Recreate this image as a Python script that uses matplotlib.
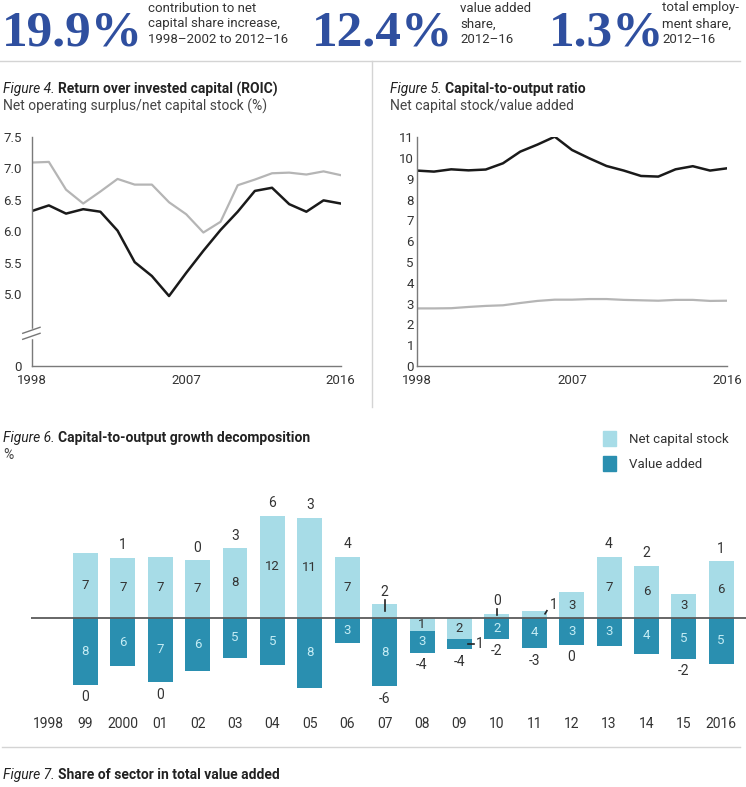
import matplotlib
matplotlib.use("Agg")
import matplotlib.pyplot as plt
import numpy as np
from matplotlib.lines import Line2D
from matplotlib.patches import Patch

plt.rcParams["font.family"] = ["Roboto", "DejaVu Sans"]

BLUE = "#2f4f9f"
LIGHT = "#a7dce7"
DARK = "#2a8fb0"
TXT = "#333333"
SEP = "#d4d4d4"

# --- header ---------------------------------------------------------------
HEAD_NUMS = ["19.9%", "12.4%", "1.3%"]
HEAD_TEXT = [
    ["contribution to net", "capital share increase,", "1998\u20132002 to 2012\u201316"],
    ["value added", "share,", "2012\u201316"],
    ["total employ-", "ment share,", "2012\u201316"],
]

# --- figure 4 / 5 ------------------------------------------------------------
YEARS = list(range(1998, 2017))
ROIC_DARK = [6.32, 6.41, 6.28, 6.35, 6.31, 6.01, 5.51, 5.29, 4.88, 5.34,
             5.69, 6.02, 6.31, 6.64, 6.69, 6.43, 6.31, 6.49, 6.44]
ROIC_GREY = [7.09, 7.10, 6.66, 6.44, 6.63, 6.83, 6.74, 6.74, 6.46, 6.27,
             5.98, 6.15, 6.73, 6.82, 6.92, 6.93, 6.90, 6.95, 6.89]
KY_DARK = [9.40, 9.35, 9.46, 9.41, 9.45, 9.75, 10.31, 10.65, 11.03, 10.39,
           9.99, 9.62, 9.40, 9.14, 9.11, 9.46, 9.61, 9.40, 9.51]
KY_GREY = [2.77, 2.77, 2.78, 2.84, 2.89, 2.92, 3.03, 3.13, 3.19, 3.19,
           3.22, 3.22, 3.18, 3.16, 3.14, 3.18, 3.18, 3.13, 3.14]

# --- figure 6 ------------------------------------------------------------------
BAR_CATS = ["1998", "99", "2000", "01", "02", "03", "04", "05", "06", "07",
            "08", "09", "10", "11", "12", "13", "14", "15", "2016"]
BAR_YEARS = list(range(1999, 2017))
CAPITAL = [7.4, 6.9, 7.0, 6.6, 8.0, 11.7, 11.5, 7.0, 1.6, -1.5,
           -2.5, 0.4, 0.8, 2.9, 7.0, 6.0, 2.7, 6.5]
VALUE_ADDED = [7.7, 5.6, 7.4, 6.1, 4.6, 5.4, 8.1, 2.9, 7.9, 2.5,
               1.15, 2.4, 3.5, 3.1, 3.25, 4.2, 4.7, 5.3]
CAPITAL_LBL = [7, 7, 7, 7, 8, 12, 11, 7, 2, 1, 2, 0, 1, 3, 7, 6, 3, 6]
VALUE_LBL = [8, 6, 7, 6, 5, 5, 8, 3, 8, 3, 1, 2, 4, 3, 3, 4, 5, 5]
TOTAL_LBL = [0, 1, 0, 0, 3, 6, 3, 4, -6, -4, -4, -2, -3, 0, 4, 2, -2, 1]
# small segments labelled outside the bar
CALLOUT = {2007: "up", 2010: "up", 2011: "diag", 2009: "right"}

W, H = 746, 787
fig = plt.figure(figsize=(W / 100, H / 100), dpi=100)


def fx(px):
    return px / W


def fy(py):
    return 1 - py / H


def fig_title(x, y, num, bold, sub):
    r = fig.canvas.get_renderer()
    t = fig.text(fx(x), fy(y), num + " ", style="italic", fontsize=10,
                 color="#222222", va="center")
    bb = t.get_window_extent(r)
    fig.text(bb.x1 / W, fy(y), bold, weight="bold", fontsize=10,
             color="#222222", va="center")
    fig.text(fx(x), fy(y + 17), sub, fontsize=10, color="#444444", va="center")


# header
for num, lines, x0, xt in zip(HEAD_NUMS, HEAD_TEXT, [2, 312, 549], [148, 460, 662]):
    fig.text(fx(x0), fy(45), num, family="Liberation Serif", weight="bold",
             fontsize=37, color=BLUE, va="baseline")
    for i, s in enumerate(lines):
        fig.text(fx(xt), fy(8 + 15.8 * i), s, fontsize=9.5, color=TXT, va="center")

# separators
fig.add_artist(Line2D([0, fx(740)], [fy(61), fy(61)], color=SEP, lw=1))
fig.add_artist(Line2D([fx(372), fx(372)], [fy(61), fy(407)], color=SEP, lw=1))
fig.add_artist(Line2D([fx(2), fx(740)], [fy(747), fy(747)], color=SEP, lw=1))

# ---------------- figure 4 ----------------
K = 0.2275


def fwd(y):
    y = np.asarray(y, float)
    return np.where(y >= 5, y, 5 - (5 - y) * K)


def inv(t):
    t = np.asarray(t, float)
    return np.where(t >= 5, t, 5 - (5 - t) / K)


ax4 = fig.add_axes([fx(31.7), fy(366), fx(309), (366 - 136.7) / H])
ax4.plot(YEARS, ROIC_GREY, color="#b5b5b5", lw=1.6)
ax4.plot(YEARS, ROIC_DARK, color="#1a1a1a", lw=1.8)
ax4.set_yscale("function", functions=(fwd, inv))
ax4.set_ylim(0, 7.5)
ax4.set_xlim(1998, 2016)
ax4.set_yticks([0, 5, 5.5, 6, 6.5, 7, 7.5])
ax4.set_yticklabels(["0", "5.0", "5.5", "6.0", "6.5", "7.0", "7.5"])
ax4.tick_params(axis="y", length=0, pad=7, labelsize=9.5, labelcolor=TXT)

# axis break marks
ax4.plot([0, 0], [0.126, 0.158], transform=ax4.transAxes, color="white",
         lw=2.5, clip_on=False, zorder=3)
for y0 in (0.1164, 0.1426):
    ax4.plot([-0.029, 0.027], [y0, y0 + 0.0262], transform=ax4.transAxes,
             color="#777777", lw=1, clip_on=False, zorder=4)

# ---------------- figure 5 ----------------
ax5 = fig.add_axes([fx(416.7), fy(366), fx(310.6), (366 - 137.3) / H])
ax5.plot(YEARS, KY_GREY, color="#b5b5b5", lw=1.6)
ax5.plot(YEARS, KY_DARK, color="#1a1a1a", lw=1.8)
ax5.set_ylim(0, 11)
ax5.set_xlim(1998, 2016)
ax5.set_yticks(range(0, 12))
ax5.tick_params(axis="y", length=0, pad=2, labelsize=9.5, labelcolor=TXT)

for ax in (ax4, ax5):
    for s in ("top", "right"):
        ax.spines[s].set_visible(False)
    for s in ("left", "bottom"):
        ax.spines[s].set_color("#7a7a7a")
        ax.spines[s].set_linewidth(1)
    ax.set_xticks([1998, 2007, 2016])
    ax.tick_params(axis="x", length=0, pad=6, labelsize=9.5, labelcolor=TXT)
    ax.patch.set_alpha(0)

fig_title(3, 89, "Figure 4.", "Return over invested capital (ROIC)",
          "Net operating surplus/net capital stock (%)")
fig_title(390, 89, "Figure 5.", "Capital-to-output ratio",
          "Net capital stock/value added")

# ---------------- figure 6 ----------------
step = 37.4
ax6 = fig.add_axes([fx(30.7), fy(704.7), fx(746 - 30.7), 208.8 / H])
ax6.set_xlim(-17.3 / step, -17.3 / step + (746 - 30.7) / step)
ax6.set_ylim(-10, 14)
for s in ax6.spines.values():
    s.set_visible(False)
ax6.set_yticks([])
ax6.set_xticks(range(len(BAR_CATS)))
ax6.set_xticklabels(BAR_CATS)
ax6.tick_params(axis="x", length=0, pad=9, labelsize=10, labelcolor=TXT)
ax6.patch.set_alpha(0)

xs = np.array([BAR_CATS.index(c) for c in BAR_CATS[1:]])
cap = np.array(CAPITAL)
va = np.array(VALUE_ADDED)
va_base = np.minimum(cap, 0)
bw = 25 / step
ax6.bar(xs, cap, width=bw, color=LIGHT, label="Net capital stock")
ax6.bar(xs, -va, bottom=va_base, width=bw, color=DARK, label="Value added")
ax6.axhline(0, color="#5a5a5a", lw=1.3, zorder=3)

for x, yr, c, v, cl, vl, tl, b in zip(xs, BAR_YEARS, cap, va, CAPITAL_LBL,
                                      VALUE_LBL, TOTAL_LBL, va_base):
    mode = CALLOUT.get(yr)
    # capital segment
    if mode == "up":
        ax6.plot([x, x], [c - 0.8, c + 0.4] if c > 1 else [0.3, 1.0],
                 color="#222222", lw=1.2, zorder=4)
        ax6.text(x, max(c, 0.6) + 1.3, str(cl), ha="center", va="center",
                 fontsize=10, color=TXT)
    elif mode == "diag":
        ax6.plot([x + 0.29, x + 0.34], [c - 0.35, c], color="#222222", lw=1.2,
                 zorder=4)
        ax6.text(x + 0.52, c + 0.65, str(cl), ha="center", va="center",
                 fontsize=10, color=TXT)
    else:
        ax6.text(x, c / 2, str(cl), ha="center", va="center", fontsize=9.5,
                 color=TXT, zorder=5)
    # value-added segment
    mid = b - v / 2
    if mode == "right":
        ax6.plot([x + 0.23, x + 0.39], [mid, mid], color="#222222", lw=1.2,
                 zorder=4)
        ax6.text(x + 0.55, mid, str(vl), ha="center", va="center",
                 fontsize=10, color=TXT)
    else:
        ax6.text(x, mid, str(vl), ha="center", va="center", fontsize=9.5,
                 color="#c4ecf4", zorder=5)
    # net change
    if c - v > 0:
        ax6.annotate(str(tl), (x, c), xytext=(0, 9), textcoords="offset points",
                     ha="center", va="center", fontsize=10, color=TXT)
    else:
        ax6.annotate(str(tl), (x, b - v), xytext=(0, -9),
                     textcoords="offset points", ha="center", va="center",
                     fontsize=10, color=TXT)

fig_title(3, 438, "Figure 6.", "Capital-to-output growth decomposition", "%")

handles = [Patch(color=LIGHT), Patch(color=DARK)]
fig.legend(handles, ["Net capital stock", "Value added"], loc="upper left",
           bbox_to_anchor=(fx(591), fy(419)), frameon=False, fontsize=9.5,
           handlelength=1.0, handleheight=1.4, handletextpad=1.0,
           labelspacing=0.75, labelcolor=TXT)

r = fig.canvas.get_renderer()
t7 = fig.text(fx(3), fy(775), "Figure 7. ", style="italic", fontsize=10,
              color="#222222", va="center")
fig.text(t7.get_window_extent(r).x1 / W, fy(775), "Share of sector in total value added",
         weight="bold", fontsize=10, color="#222222", va="center")

fig.savefig("out.png", dpi=100)
